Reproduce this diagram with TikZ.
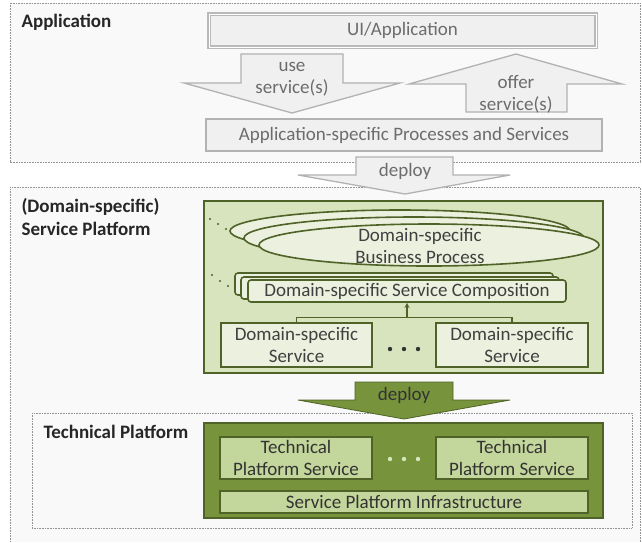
\documentclass[tikz,border=0pt]{standalone}
\usepackage{fontspec}
\setmainfont{Carlito}
\usetikzlibrary{arrows,positioning,shapes.geometric}
\definecolor{txtgray}{HTML}{404040}
\definecolor{olivedark}{HTML}{4F6228}
\definecolor{olivemid}{HTML}{77933C}
\definecolor{olivelight}{HTML}{D7E4BD}
\definecolor{olivepale}{HTML}{EBF1DE}
\definecolor{olivesoft}{HTML}{C3D69B}

\begin{document}
\begin{tikzpicture}[
		x=1pt, y=-1pt,
		font=\fontsize{19}{22}\selectfont,
		text=txtgray,
		layer/.style={draw=gray!85, line width=0.9pt, dash pattern=on 0.8pt off 0.8pt, fill=gray!5},
		layerlbl/.style={anchor=west, font=\fontsize{19}{21}\selectfont\bfseries, text=black!85},
		grayshape/.style={draw=gray!60, line width=1.3pt, fill=gray!12, line join=miter},
		graybox/.style={grayshape, rectangle, inner sep=0pt, text=gray!85!black},
		greenbox/.style={draw=olivedark, line width=1.6pt, fill=olivepale, rectangle, inner sep=0pt, align=center},
		techbox/.style={draw=olivedark, line width=1.6pt, fill=olivesoft, rectangle, inner sep=0pt, align=center, text=black!80},
		link/.style={draw=olivedark, line width=1.3pt, >=stealth}
		]
		\useasboundingbox (0,0) rectangle (642,542);
		
		% Application layer
		\draw[layer] (10,3) rectangle (640,162);
		\node[layerlbl] (applbl) at (18,22) {Application};
		\node[graybox, draw=gray!55, double=white, double distance=1pt, line width=1.2pt,
			minimum width=387, minimum height=33] (ui) at (402.5,30.5) {UI/Application};
		
		\draw[grayshape] (241,54) -- (343,54) -- (343,83) -- (400,83) -- (292,113)
		-- (184,83) -- (241,83) -- cycle;
		\node[text=gray!85!black, align=center] (use) at (292,79) {use\\service(s)};
		
		\draw[grayshape] (516,54) -- (622,84) -- (567,84) -- (567,112) -- (466,112)
		-- (466,84) -- (409,84) -- cycle;
		\node[text=gray!85!black, align=center] (offer) at (516,94) {offer\\service(s)};
		
		\node[graybox, minimum width=396, minimum height=32] (appsvc) at (404,135)
		{Application-specific Processes and Services};
		
		% Service platform layer
		\fill[gray!5] (10,187) rectangle (640,542);
		\draw[layer, fill=none] (10,545) -- (10,187) -- (640,187) -- (640,545);
		\node[layerlbl] (sp1) at (18,207) {(Domain-specific)};
		\node[layerlbl] (sp2) at (18,229) {Service Platform};
		
		\draw[grayshape] (356,157) -- (453,157) -- (453,175) -- (510,175) -- (405,194)
		-- (298,175) -- (356,175) -- cycle;
		\node[text=gray!85!black] (deploy1) at (405,171) {deploy};
		
		\draw[draw=olivedark, line width=1.6pt, fill=olivelight] (204,201) rectangle (603,373);
		
		% business processes
		\foreach \cx/\cy in {400/231, 414/238} {
			\draw[draw=olivedark, line width=1.6pt, fill=olivepale] (\cx,\cy) ellipse [x radius=170, y radius=21];
		}
		\node[draw=olivedark, line width=1.6pt, fill=olivepale, ellipse, inner sep=0pt,
			minimum width=340, minimum height=42, align=center] (bp) at (429,245) {};
		\node[align=center] (bptxt) at (420,246) {Domain-specific\\Business Process};
		\foreach \dx/\dy in {210/219, 218/224, 226/229}
			\fill[olivedark] (\dx,\dy) circle (1.1);
		
		% service compositions
		\foreach \rx/\ry in {235/273, 241/277} {
			\draw[draw=olivedark, line width=1.6pt, fill=olivepale, rounded corners=3] (\rx,\ry) rectangle ++(318,22);
		}
		\node[greenbox, rounded corners=3, minimum width=318, minimum height=22] (comp) at (407,291)
		{Domain-specific Service Composition};
		\foreach \dx/\dy in {212/275, 220/281, 228/286}
			\fill[olivedark] (\dx,\dy) circle (1.1);
		
		% services
		\node[greenbox, minimum width=151, minimum height=44] (dsl) at (296.5,345) {Domain-specific\\Service};
		\node[greenbox, minimum width=152, minimum height=44] (dsr) at (512,345) {Domain-specific\\Service};
		\foreach \dx in {390,404,418}
			\fill[black!80] (\dx,349) circle (2.2);
		
		\draw[link] (dsl.north) -- ++(0,-5) coordinate (bl) -- (bl -| dsr.north) -- (dsr.north);
		\draw[link,->] (bl -| comp.south) -- (comp.south);
		
		% Technical platform layer
		\draw[layer] (32,413) rectangle (632,528);
		\node[layerlbl] (tplbl) at (40,432) {Technical Platform};
		
		\draw[draw=olivedark, line width=0.8pt, fill=olivemid, line join=miter] (355,382) -- (453,382) -- (453,400)
		-- (510,400) -- (404,419) -- (298,400) -- (355,400) -- cycle;
		\node[text=black!80] (deploy2) at (404,395) {deploy};
		
		\draw[draw=olivedark, line width=1.6pt, fill=olivemid] (204,423) rectangle (603,518);
		\node[techbox, minimum width=152, minimum height=42] (tpl) at (296,458) {Technical\\Platform Service};
		\node[techbox, minimum width=152, minimum height=42] (tpr) at (512,458) {Technical\\Platform Service};
		\foreach \dx in {390,404,418}
			\fill[olivelight] (\dx,459) circle (2.2);
		\node[techbox, minimum width=368, minimum height=22] (infra) at (404,502) {Service Platform Infrastructure};
		\end{tikzpicture}
\end{document}
